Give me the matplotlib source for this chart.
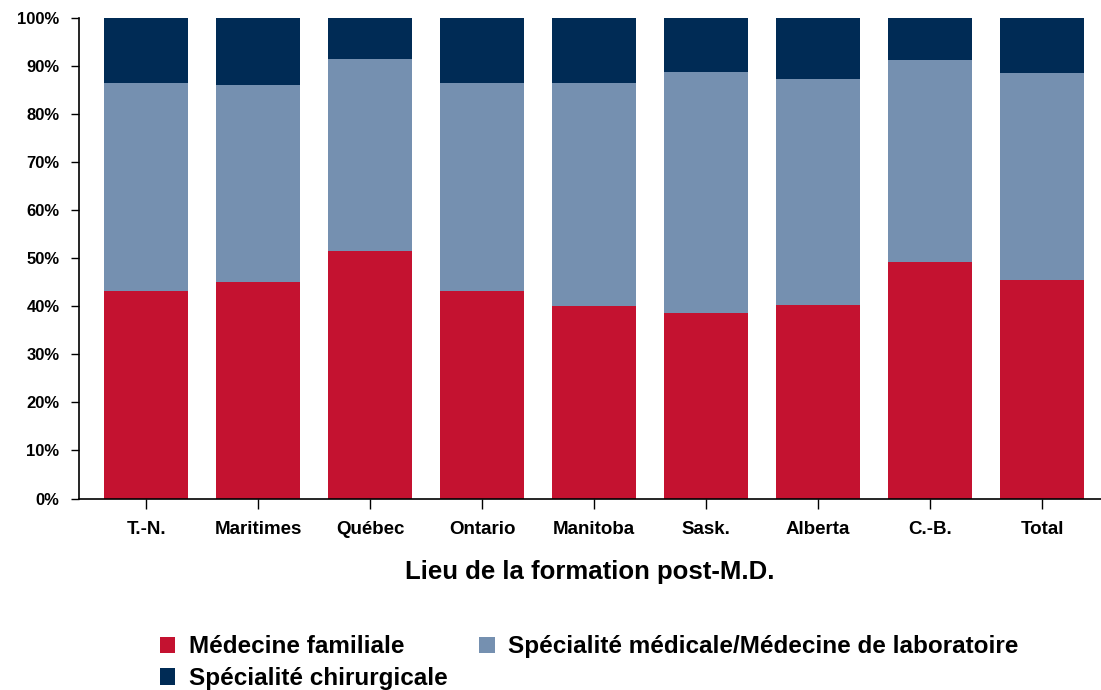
import matplotlib.pyplot as plt
import numpy as np

plt.rcParams['font.family'] = ['Liberation Sans', 'DejaVu Sans']
plt.rcParams['font.weight'] = 'bold'

# lieux de formation
regions = ["T.-N.", "Maritimes", "Québec", "Ontario", "Manitoba", "Sask.", "Alberta", "C.-B.", "Total"]
# % médecine familiale (bas de la pile)
familiale = [43.1, 45.0, 51.5, 43.2, 40.1, 38.6, 40.3, 49.2, 45.5]
# % cumulé familiale + spécialité médicale
cumul_med = [86.5, 86.0, 91.4, 86.5, 86.4, 88.7, 87.3, 91.2, 88.5]

fam = np.array(familiale)
med = np.array(cumul_med) - fam
chir = 100 - np.array(cumul_med)

c_fam = "#C41230"
c_med = "#7590B0"
c_chir = "#002B55"

fig = plt.figure(figsize=(11.01, 6.9), dpi=100)
ax = fig.add_axes([79 / 1101, 0.2775, 1 - 79 / 1101, 0.6965])

x = np.arange(len(regions))
w = 0.75
b1 = ax.bar(x, fam, w, color=c_fam, label="Médecine familiale")
b2 = ax.bar(x, med, w, bottom=fam, color=c_med, label="Spécialité médicale/Médecine de laboratoire")
b3 = ax.bar(x, chir, w, bottom=fam + med, color=c_chir, label="Spécialité chirurgicale")

ax.set_xlim(-0.6, -0.6 + 1022 / 112)
ax.set_ylim(0, 100)
ax.set_yticks(np.arange(0, 101, 10))
ax.set_yticklabels([f"{v}%" for v in range(0, 101, 10)])
ax.set_xticks(x)
ax.set_xticklabels(regions)

for s in ["top", "right"]:
    ax.spines[s].set_visible(False)
ax.spines["left"].set_linewidth(1.2)
ax.spines["bottom"].set_linewidth(1.2)

ax.tick_params(axis="y", direction="out", length=6, width=1, pad=8, labelsize=12)
ax.tick_params(axis="x", direction="out", length=7, width=1, pad=9, labelsize=13.5)

ax.set_xlabel("Lieu de la formation post-M.D.", fontsize=18.5, fontweight="bold", labelpad=16)

fig.legend(handles=[b1, b3, b2], ncol=2, loc="upper left",
           bbox_to_anchor=(0.134, 0.097), frameon=False, fontsize=17.5,
           handlelength=0.65, handleheight=0.65, handletextpad=0.55,
           columnspacing=1.3, labelspacing=0.36, borderpad=0)

plt.savefig("out.png", dpi=100)
plt.close()
